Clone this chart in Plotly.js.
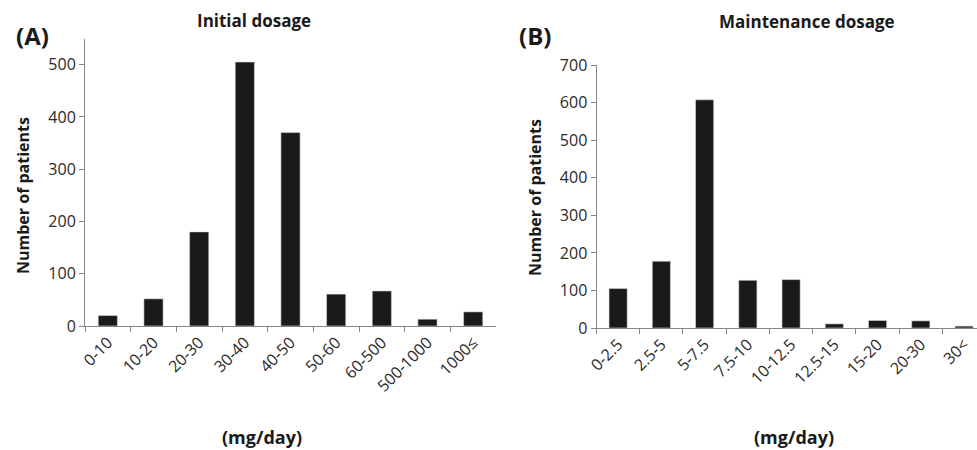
<!DOCTYPE html>
<html>
<head>
<meta charset="utf-8">
<script src="https://cdn.plot.ly/plotly-3.0.1.min.js"></script>
<style>html,body{margin:0;padding:0;background:#fff;overflow:hidden}</style>
</head>
<body>
<div id="chart" style="width:977px;height:450px"></div>
<script>
var initialCategories = ["0-10","10-20","20-30","30-40","40-50","50-60","60-500","500-1000","1000≤"];
var initialPatients = [20, 52, 180, 505, 370, 61, 67, 13, 27];
var maintCategories = ["0-2.5","2.5-5","5-7.5","7.5-10","10-12.5","12.5-15","15-20","20-30","30<"];
var maintPatients = [105, 178, 608, 127, 129, 11, 20, 19, 5];
var initialTicks = [0, 100, 200, 300, 400, 500];
var maintTicks = [0, 100, 200, 300, 400, 500, 600, 700];

var W = 977, H = 450;
var barColor = "#1a1a1a";
var axisColor = "#868686";
var font = "Open Sans, Noto Sans, DejaVu Sans, sans-serif";

var traces = [
  {type: "bar", x: initialCategories, y: initialPatients, xaxis: "x", yaxis: "y",
   marker: {color: barColor, line: {color: "#d8d8d8", width: 0.6}}, width: 0.42, hoverinfo: "x+y"},
  {type: "bar", x: maintCategories, y: maintPatients, xaxis: "x2", yaxis: "y2",
   marker: {color: barColor, line: {color: "#d8d8d8", width: 0.6}}, width: 0.42, hoverinfo: "x+y"}
];

function xAxis(domain, range, anchor) {
  return {domain: domain, anchor: anchor, type: "category", range: range,
    showline: true, linecolor: axisColor, linewidth: 1, showgrid: false, zeroline: false,
    ticks: "outside", tickson: "boundaries", ticklen: 5, tickcolor: axisColor, tickwidth: 1,
    tickangle: -45, tickfont: {family: font, size: 16, color: "#2a2a2a"}, fixedrange: true};
}
function yAxis(domain, range, vals, anchor) {
  return {domain: domain, anchor: anchor, range: range, tickmode: "array", tickvals: vals,
    showline: true, linecolor: axisColor, linewidth: 1, showgrid: false, zeroline: false,
    ticks: "outside", ticklen: 5, tickcolor: axisColor, tickwidth: 1,
    tickfont: {family: font, size: 16, color: "#2a2a2a"}, fixedrange: true};
}

function label(text, xpx, ypx, size, angle) {
  return {text: text, x: xpx / W, y: (H - ypx) / H, xref: "paper", yref: "paper",
    xanchor: "center", yanchor: "middle", showarrow: false, textangle: angle || 0,
    font: {family: font, size: size, color: "#1a1a1a"}};
}

var layout = {
  width: W, height: H, margin: {l: 0, r: 0, t: 0, b: 0},
  paper_bgcolor: "#fff", plot_bgcolor: "rgba(0,0,0,0)", showlegend: false, bargap: 0.58,
  xaxis: xAxis([85/W, 496/W], [-0.5, 8.5], "y"),
  yaxis: yAxis([(H-326)/H, (H-38.5)/H], [0, 550], initialTicks, "x"),
  xaxis2: xAxis([596.5/W, 1], [-0.5, 8.3], "y2"),
  yaxis2: yAxis([(H-328)/H, (H-65.3)/H], [0, 700], maintTicks, "x2"),
  annotations: [
    label("<b>Initial dosage</b>", 254, 21, 17),
    label("<b>Maintenance dosage</b>", 807, 22, 17),
    label("<b>(A)</b>", 32, 36, 24),
    label("<b>(B)</b>", 535, 36, 24),
    label("<b>Number of patients</b>", 23, 196, 16, -90),
    label("<b>Number of patients</b>", 535, 198, 16, -90),
    label("<b>(mg/day)</b>", 262, 437, 18),
    label("<b>(mg/day)</b>", 794, 437, 18)
  ]
};

Plotly.newPlot("chart", traces, layout, {displayModeBar: false, staticPlot: true});
</script>
</body>
</html>
